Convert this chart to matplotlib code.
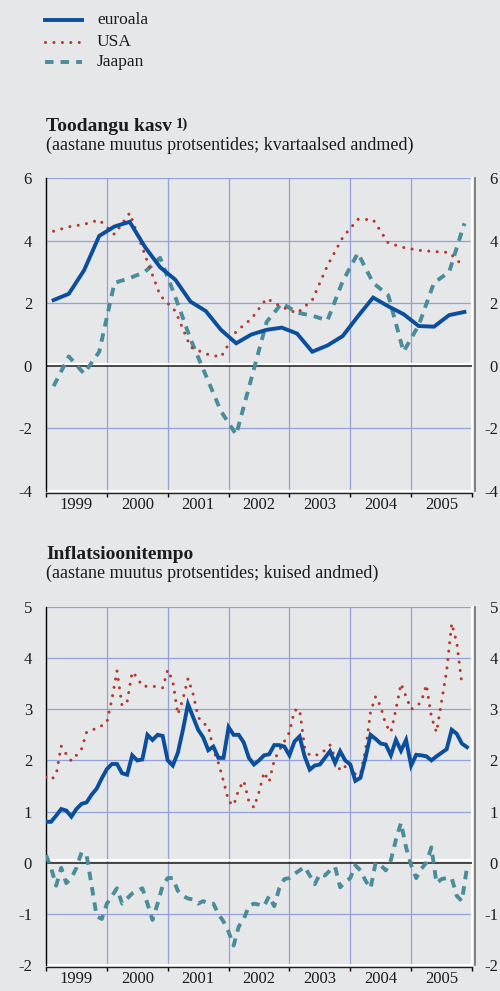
import matplotlib
matplotlib.use("Agg")
import matplotlib.pyplot as plt
import numpy as np
from matplotlib.lines import Line2D
from matplotlib import transforms

plt.rcParams['font.family'] = ['Liberation Serif', 'DejaVu Serif']

# ---------------- data ----------------
years = ["1999", "2000", "2001", "2002", "2003", "2004", "2005"]
legend_labels = ["euroala", "USA", "Jaapan"]

# Output growth, quarterly (1999Q1 - 2005Q4)
out_euro = [2.1, 2.3, 3.05, 4.15, 4.45, 4.6, 3.8, 3.15,
            2.75, 2.05, 1.75, 1.15, 0.72, 1.0, 1.15, 1.22,
            1.03, 0.45, 0.65, 0.95, 1.58, 2.18, 1.9, 1.65,
            1.27, 1.25, 1.62, 1.72]
out_usa = [4.3, 4.44, 4.52, 4.66, 4.2, 4.88, 3.55, 2.25,
           1.75, 0.6, 0.38, 0.28, 1.1, 1.5, 2.15, 1.88,
           1.68, 2.1, 3.2, 4.1, 4.68, 4.67, 3.92, 3.78,
           3.69, 3.65, 3.62, 3.15]
out_jpn = [-0.65, 0.3, -0.25, 0.45, 2.65, 2.8, 3.0, 3.45,
           2.2, 0.85, -0.3, -1.45, -2.2, -0.4, 1.4, 2.0,
           1.7, 1.6, 1.45, 2.7, 3.6, 2.65, 2.25, 0.45,
           1.3, 2.65, 3.0, 4.55]

# Inflation, monthly (Jan 1999 - Dec 2005; USA to Nov 2005)
inf_euro = [0.8, 0.8, 0.92, 1.05, 1.02, 0.9, 1.05, 1.15, 1.18, 1.33, 1.45, 1.65,
            1.83, 1.93, 1.93, 1.75, 1.72, 2.1, 2.0, 2.02, 2.5, 2.4, 2.5, 2.48,
            2.0, 1.9, 2.15, 2.6, 3.1, 2.85, 2.6, 2.45, 2.2, 2.27, 2.05, 2.05,
            2.65, 2.5, 2.5, 2.35, 2.05, 1.92, 2.0, 2.1, 2.12, 2.3, 2.3, 2.27,
            2.1, 2.37, 2.47, 2.08, 1.82, 1.9, 1.92, 2.05, 2.18, 1.95, 2.18, 2.0,
            1.92, 1.6, 1.66, 2.05, 2.5, 2.42, 2.33, 2.31, 2.1, 2.4, 2.19, 2.4,
            1.9, 2.11, 2.1, 2.08, 2.0, 2.08, 2.15, 2.22, 2.6, 2.52, 2.33, 2.26]
inf_usa = [1.67, 1.62, 1.72, 2.28, 2.12, 1.99, 2.1, 2.22, 2.55, 2.6, 2.62, 2.68,
           2.74, 3.2, 3.75, 3.07, 3.15, 3.73, 3.62, 3.45, 3.45, 3.45, 3.44, 3.42,
           3.77, 3.55, 2.9, 3.2, 3.6, 3.3, 2.85, 2.72, 2.68, 2.2, 1.95, 1.6,
           1.2, 1.12, 1.43, 1.6, 1.2, 1.08, 1.38, 1.77, 1.58, 2.0, 2.2, 2.37,
           2.55, 2.98, 3.0, 2.25, 2.1, 2.1, 2.12, 2.2, 2.3, 2.05, 1.8, 1.88,
           1.93, 1.73, 1.73, 2.2, 2.95, 3.25, 3.05, 2.7, 2.55, 3.0, 3.5, 3.25,
           3.0, 3.05, 3.15, 3.48, 2.85, 2.55, 3.15, 3.75, 4.68, 4.3, 3.5]
inf_jpn = [0.15, -0.1, -0.45, -0.1, -0.4, -0.3, -0.1, 0.2, 0.15, -0.45, -1.05, -1.1,
           -0.8, -0.65, -0.5, -0.8, -0.7, -0.6, -0.55, -0.5, -0.8, -1.12, -0.8, -0.45,
           -0.3, -0.3, -0.55, -0.65, -0.7, -0.72, -0.8, -0.75, -0.8, -0.8, -1.0, -1.15,
           -1.35, -1.62, -1.25, -1.1, -0.85, -0.8, -0.82, -0.85, -0.65, -0.85, -0.5, -0.32,
           -0.3, -0.22, -0.15, -0.08, -0.25, -0.42, -0.22, -0.25, -0.15, -0.08, -0.48, -0.38,
           -0.3, -0.05, -0.15, -0.35, -0.5, 0.0, -0.05, -0.15, 0.05, 0.45, 0.78, 0.3,
           -0.05, -0.3, -0.12, 0.0, 0.3, -0.4, -0.32, -0.3, -0.3, -0.65, -0.75, -0.1]

# ---------------- style ----------------
BG = '#e6e7e9'
GRID = '#93a1d6'
C_EURO = '#0b4f9c'
C_USA = '#b3392c'
C_JPN = '#4b8c9b'
TXT = '#1c1c1c'

LW_EURO = 2.8
LW_USA = 2.2
LW_JPN = 2.8
STY_USA = dict(linestyle=(0, (0.01, 2.75)), dash_capstyle='round')
STY_JPN = dict(linestyle=(0, (2.2, 1.8)), dash_capstyle='butt')

fig = plt.figure(figsize=(5, 9.91), dpi=100, facecolor=BG)
W, H = 500.0, 991.0

def fx(px):
    return px / W

def fy(py):
    return 1 - py / H


def style_axes(ax, ylo, yhi, ystep):
    ax.set_facecolor(BG)
    ax.set_xlim(1999, 2006)
    ax.set_ylim(ylo, yhi)
    yt = np.arange(ylo, yhi + 0.01, ystep)
    ax.set_yticks(yt)
    ax.set_yticklabels([f"{v:g}" for v in yt])
    ax.tick_params(axis='y', length=0, labelsize=12, pad=10, labelcolor=TXT)
    ax.set_xticks(np.arange(1999, 2007))
    ax.set_xticklabels([])
    ax.set_xticks(np.arange(1999, 2006) + 0.5, minor=True)
    ax.set_xticklabels(years, minor=True)
    ax.tick_params(axis='x', which='major', direction='out', length=3, width=1.0, color='black')
    ax.tick_params(axis='x', which='minor', length=0, pad=2.5, labelsize=12, labelcolor=TXT)
    for s in ['top', 'right']:
        ax.spines[s].set_visible(False)
    ax.spines['left'].set_color('black')
    ax.spines['left'].set_linewidth(1.0)
    ax.spines['bottom'].set_color('#222222')
    ax.spines['bottom'].set_linewidth(1.0)
    ax.spines['bottom'].set_position(('outward', 1.5))
    # grid
    for x in range(2000, 2006):
        ax.axvline(x, color=GRID, lw=0.9, zorder=1)
    for y in yt:
        if y != 0 and y != ylo:
            ax.axhline(y, color=GRID, lw=0.9, zorder=1)
    # white edges
    ax.axhline(ylo, color='white', lw=1.6, zorder=1.5, clip_on=False)
    ax.axvline(2006, color='white', lw=1.6, zorder=1.5, clip_on=False)
    # zero line with white highlight above
    ax.axhline(0, color='#2a2a2a', lw=1.2, zorder=2)
    off = ax.get_yaxis_transform() + transforms.ScaledTranslation(0, 1.6 / 72, fig.dpi_scale_trans)
    ax.plot([0, 1], [0, 0], color='white', lw=1.5, transform=off, zorder=2)
    # right axis labels on secondary axis (right-aligned near figure edge)
    sec = ax.secondary_yaxis(1.007)
    sec.set_yticks(yt)
    sec.set_yticklabels([f"{v:g}" for v in yt], ha='right')
    sec.tick_params(length=0, labelsize=12, pad=16.5, labelcolor=TXT)
    sec.spines['right'].set_color('#6d6d6d')
    sec.spines['right'].set_linewidth(1.2)
    return ax


# ---------------- top chart ----------------
ax1 = fig.add_axes([fx(46), fy(491), fx(472 - 46), (491 - 178) / H])
style_axes(ax1, -4, 6, 2)
qx = 1999 + np.arange(len(out_euro)) * 0.25 + 0.125
ax1.plot(qx, out_jpn, color=C_JPN, lw=LW_JPN, zorder=3, **STY_JPN)
ax1.plot(qx, out_usa, color=C_USA, lw=LW_USA, zorder=4, **STY_USA)
ax1.plot(qx, out_euro, color=C_EURO, lw=LW_EURO, zorder=5, solid_joinstyle='miter')

# ---------------- bottom chart ----------------
ax2 = fig.add_axes([fx(46), fy(965), fx(472 - 46), (965 - 607) / H])
style_axes(ax2, -2, 5, 1)
mx = 1999 + np.arange(len(inf_euro)) / 12.0
ax2.plot(mx[:len(inf_jpn)], inf_jpn, color=C_JPN, lw=LW_JPN, zorder=3, **STY_JPN)
ax2.plot(mx[:len(inf_usa)], inf_usa, color=C_USA, lw=LW_USA, zorder=4, **STY_USA)
ax2.plot(mx, inf_euro, color=C_EURO, lw=LW_EURO, zorder=5, solid_joinstyle='miter')

# ---------------- legend ----------------
leg_y = [20, 42, 62]
leg_styles = [dict(color=C_EURO, lw=LW_EURO),
              dict(color=C_USA, lw=LW_USA, **STY_USA),
              dict(color=C_JPN, lw=LW_JPN, **STY_JPN)]
for lab, yy, st in zip(legend_labels, leg_y, leg_styles):
    fig.add_artist(Line2D([fx(45), fx(82)], [fy(yy), fy(yy)], transform=fig.transFigure, **st))
    fig.text(fx(97), fy(yy), lab, fontsize=12.5, color=TXT, va='center', ha='left')

# ---------------- titles ----------------
t1 = fig.text(fx(46), fy(131), "Toodangu kasv", fontsize=14, fontweight='bold', color=TXT,
              va='baseline', ha='left')
fig.add_artist(plt.Annotation("1)", xy=(1, 1), xycoords=t1, xytext=(3, 0),
                              textcoords='offset points', va='top', ha='left',
                              fontsize=10.5, fontweight='bold', color=TXT))
fig.text(fx(46), fy(150), "(aastane muutus protsentides; kvartaalsed andmed)", fontsize=13,
         color=TXT, va='baseline', ha='left')

fig.text(fx(46), fy(559), "Inflatsioonitempo", fontsize=14, fontweight='bold', color=TXT,
         va='baseline', ha='left')
fig.text(fx(46), fy(578), "(aastane muutus protsentides; kuised andmed)", fontsize=13,
         color=TXT, va='baseline', ha='left')

fig.savefig("out.png", dpi=100, facecolor=BG)
